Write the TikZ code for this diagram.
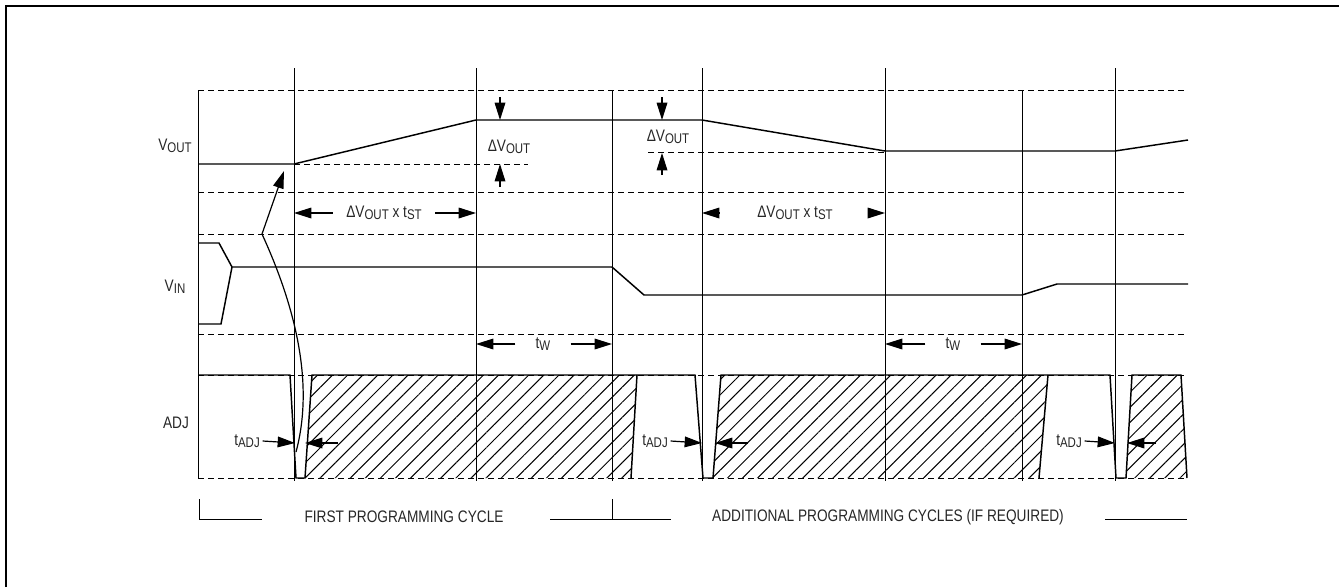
\documentclass[tikz,border=0pt]{standalone}
\usepackage{fontspec}
\setmainfont{Liberation Sans}[FakeStretch=0.82]
\usetikzlibrary{arrows.meta,patterns.meta}
\newcommand{\subtxt}[1]{\raisebox{-1.8pt}{\fontsize{10.5}{12}\selectfont #1}}

\begin{document}
\begin{tikzpicture}[x=0.75pt,y=-0.75pt,
    grid/.style={dash pattern=on 4.5pt off 3pt, line width=0.6pt},
    sig/.style={line width=1.1pt},
    tick/.style={line width=0.7pt},
    dim/.style={-{Triangle[length=13pt,width=8pt]}, line width=0.9pt},
    hatch/.style={pattern={Lines[angle=45,distance=8pt,line width=0.75pt]}},
    lbl/.style={inner sep=0pt, text=black!85, font=\fontsize{12.5}{14}\selectfont}]
		\useasboundingbox (0,0) rectangle (1339,587);
		\draw[line width=1.5pt] (6,587) -- (6,6) -- (1339,6);
		
		% dashed levels
		\foreach \y in {90,192,234,334,375,478}
			\draw[grid] (198,\y) -- (1188,\y);
		\draw[tick] (198,90) -- (198,478);
		
		% time marks
		\foreach \x in {294,476,702,885,1115}
			\draw[tick] (\x,68) -- (\x,481);
		\foreach \x in {612,1022}
			\draw[tick] (\x,90) -- (\x,481);
		
		% hatched areas
		\fill[hatch] (305,478) -- (312,375) -- (637,375) -- (631,478) -- cycle;
		\fill[hatch] (713,478) -- (721,375) -- (1048,375) -- (1039,478) -- cycle;
		\fill[hatch] (1126,478) -- (1132,375) -- (1181,375) -- (1187,478) -- cycle;
		
		% signals
		\draw[sig] (198,164) -- (294,164) -- (476,120) -- (702,120) -- (885,151) -- (1115,151) -- (1188,140);
		\draw[grid] (294,164) -- (528,164);
		\draw[grid] (648,152) -- (885,152);
		
		\draw[sig] (198,243) -- (219,243) -- (232,267) -- (612,267) -- (644,295) -- (1022,295) -- (1057,284) -- (1188,284);
		\draw[sig] (198,324) -- (221,324) -- (232,267);
		
		\draw[sig] (198,375) -- (290,375) -- (296,478) -- (305,478) -- (312,375) -- (695,375) -- (703,478) -- (713,478) -- (721,375) -- (1110,375) -- (1116,478) -- (1126,478) -- (1132,375) -- (1181,375) -- (1187,478);
		\draw[sig] (637,375) -- (631,478);
		\draw[sig] (1048,375) -- (1039,478);
		
		% signal names
		\node[lbl] (vout) at (175,146) {V\subtxt{OUT}};
		\node[lbl] (vin) at (175,287) {V\subtxt{IN}};
		\node[lbl] (adj) at (176,423) {ADJ};
		
		% step sizes
		\node[lbl] (dv1) at (509,147) {ΔV\subtxt{OUT}};
		\draw[dim] (500,97) -- (500,120);
		\draw[dim] (500,187) -- (500,164);
		\node[lbl] (dv2) at (668,137) {ΔV\subtxt{OUT}};
		\draw[dim] (662,97) -- (662,120);
		\draw[dim] (662,175) -- (662,153);
		
		\node[lbl, inner xsep=10pt] (tst1) at (384,213) {ΔV\subtxt{OUT} x t\subtxt{ST}};
		\draw[dim] (tst1.west) -- (294,213);
		\draw[dim] (tst1.east) -- (476,213);
		\node[lbl, inner xsep=28pt] (tst2) at (795,213) {ΔV\subtxt{OUT} x t\subtxt{ST}};
		\draw[dim] (tst2.west) -- (702,213);
		\draw[dim] (tst2.east) -- (885,213);
		
		\node[lbl, inner xsep=15pt] (tw1) at (543,344) {t\subtxt{W}};
		\draw[dim] (tw1.west) -- (476,344);
		\draw[dim] (tw1.east) -- (612,344);
		\node[lbl, inner xsep=15pt] (tw2) at (953,344) {t\subtxt{W}};
		\draw[dim] (tw2.west) -- (885,344);
		\draw[dim] (tw2.east) -- (1022,344);
		
		\node[lbl, inner xsep=2pt] (ta1) at (247,441) {t\subtxt{ADJ}};
		\draw[dim] (ta1.east) -- (295,443);
		\draw[dim] (338,443) -- (305,443);
		\node[lbl, inner xsep=2pt] (ta2) at (655,441) {t\subtxt{ADJ}};
		\draw[dim] (ta2.east) -- (702,443);
		\draw[dim] (748,443) -- (715,443);
		\node[lbl, inner xsep=2pt] (ta3) at (1069,441) {t\subtxt{ADJ}};
		\draw[dim] (ta3.east) -- (1115,443);
		\draw[dim] (1156,443) -- (1127,443);
		
		% cause
		\draw[-{Triangle[length=13pt,width=8pt]}, line width=0.9pt] (296,452) .. controls (310,400) and (306,330) .. (262,234) -- (284,171);
		
		% cycles
		\draw[tick] (199,499) -- (199,519) -- (262,519);
		\draw[tick] (550,519) -- (671,519);
		\draw[tick] (612,499) -- (612,519);
		\draw[tick] (1105,519) -- (1187,519);
		\node[lbl] (first) at (404,517) {FIRST PROGRAMMING CYCLE};
		\node[lbl] (more) at (888,517) {ADDITIONAL PROGRAMMING CYCLES (IF REQUIRED)};
		\end{tikzpicture}
\end{document}
